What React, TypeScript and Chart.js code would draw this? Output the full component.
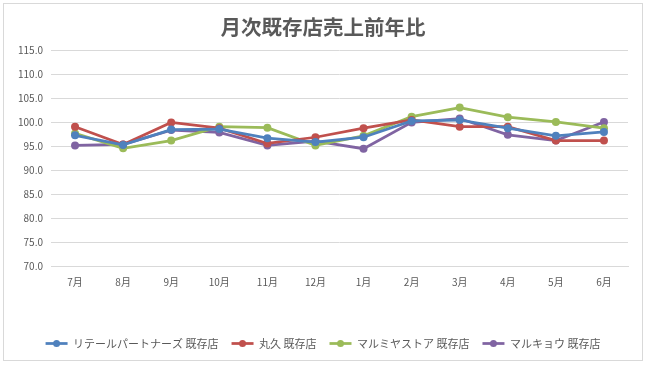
import React, { useEffect, useRef } from "react";
import { Chart, registerables } from "chart.js";

Chart.register(...registerables);

const title = "月次既存店売上前年比";
const months = ["7月", "8月", "9月", "10月", "11月", "12月", "1月", "2月", "3月", "4月", "5月", "6月"];
const seriesNames = ["リテールパートナーズ 既存店", "丸久 既存店", "マルミヤストア 既存店", "マルキョウ 既存店"];
const retailPartners = [97.3, 95.3, 98.5, 98.6, 96.7, 95.9, 96.9, 100.3, 100.5, 98.8, 97.2, 98.0];
const marukyu = [99.1, 95.4, 100.0, 98.8, 95.6, 96.9, 98.8, 100.5, 99.1, 99.1, 96.2, 96.2];
const marumiya = [97.7, 94.6, 96.2, 99.1, 98.9, 95.2, 97.2, 101.2, 103.1, 101.1, 100.1, 98.8];
const marukyou = [95.2, 95.4, 98.4, 97.9, 95.2, 96.1, 94.5, 100.0, 100.8, 97.4, 96.2, 100.1];
const colors = ["#4F81BD", "#C0504D", "#9BBB59", "#8064A2"];

const FONT = "'Noto Sans CJK JP', 'Noto Sans', sans-serif";
const LEG_W = 22;

export default function App() {
  const ref = useRef<HTMLCanvasElement | null>(null);
  useEffect(() => {
    document.body.style.margin = "0";
    const data = [retailPartners, marukyu, marumiya, marukyou];
    const chart = new Chart(ref.current!, {
      type: "line",
      data: {
        labels: months,
        datasets: data.map((d, i) => ({
          label: seriesNames[i],
          data: d,
          borderColor: colors[i],
          backgroundColor: colors[i],
          borderWidth: 2.75,
          pointRadius: 4,
          pointBorderWidth: 0,
          pointBackgroundColor: colors[i],
          tension: 0,
          yAxisID: "y",
        })),
      },
      options: {
        animation: false,
        responsive: false,
        maintainAspectRatio: false,
        layout: { padding: { left: 0, right: 0, top: 4, bottom: 1 } },
        plugins: {
          title: {
            display: true,
            text: title,
            color: "#595959",
            font: { family: FONT, size: 20.5, weight: "bold" },
            padding: { top: 7, bottom: 11 },
          },
          legend: {
            position: "bottom",
            labels: {
              color: "#595959",
              font: { family: FONT, size: 11 },
              usePointStyle: true,
              pointStyle: "line",
              pointStyleWidth: LEG_W,
              boxWidth: LEG_W,
              padding: 13,
              generateLabels: (c: any) =>
                c.data.datasets.map((ds: any, i: number) => ({
                  text: ds.label,
                  fillStyle: ds.borderColor,
                  strokeStyle: ds.borderColor,
                  lineWidth: 2.75,
                  pointStyle: "line",
                  hidden: false,
                  datasetIndex: i,
                  fontColor: "#595959",
                })),
            },
          },
          tooltip: { enabled: false },
        },
        scales: {
          x: {
            offset: true,
            grid: { display: false, drawTicks: false },
            border: { display: true, color: "#d9d9d9" },
            ticks: { color: "#595959", font: { family: FONT, size: 10 }, padding: 10, maxRotation: 0 },
            afterFit: (s: any) => {
              s.height = 59;
            },
          },
          y: {
            min: 70,
            max: 115,
            ticks: {
              stepSize: 5,
              color: "#595959",
              font: { family: FONT, size: 10 },
              padding: 8,
              callback: (v: any) => Number(v).toFixed(1),
            },
            grid: { color: "#d9d9d9", drawTicks: false },
            border: { display: false },
            afterFit: (s: any) => {
              s.width = 47;
            },
          },
          yRight: {
            position: "right",
            min: 70,
            max: 115,
            grid: { display: false, drawTicks: false },
            border: { display: false },
            ticks: { display: false },
            afterFit: (s: any) => {
              s.width = 14;
            },
          },
        },
      },
      plugins: [
        {
          id: "legendDots",
          afterDraw(c: any) {
            const lg = c.legend;
            if (!lg || !lg.legendHitBoxes) return;
            const ctx = c.ctx;
            lg.legendHitBoxes.forEach((b: any, i: number) => {
              const cy = b.top + b.height / 2;
              ctx.save();
              ctx.fillStyle = colors[i];
              ctx.beginPath();
              ctx.arc(b.left + LEG_W / 2, cy, 3.5, 0, Math.PI * 2);
              ctx.fill();
              ctx.restore();
            });
          },
        },
      ],
    });
    return () => chart.destroy();
  }, []);
  return (
    <div style={{ position: "relative", width: 650, height: 367 }}>
      <div
        style={{
          position: "absolute",
          left: 3,
          top: 3,
          width: 640,
          height: 358,
          border: "1px solid #d9d9d9",
          boxSizing: "border-box",
          background: "#fff",
        }}
      >
        <canvas ref={ref} width={638} height={356} style={{ display: "block" }} />
      </div>
    </div>
  );
}
